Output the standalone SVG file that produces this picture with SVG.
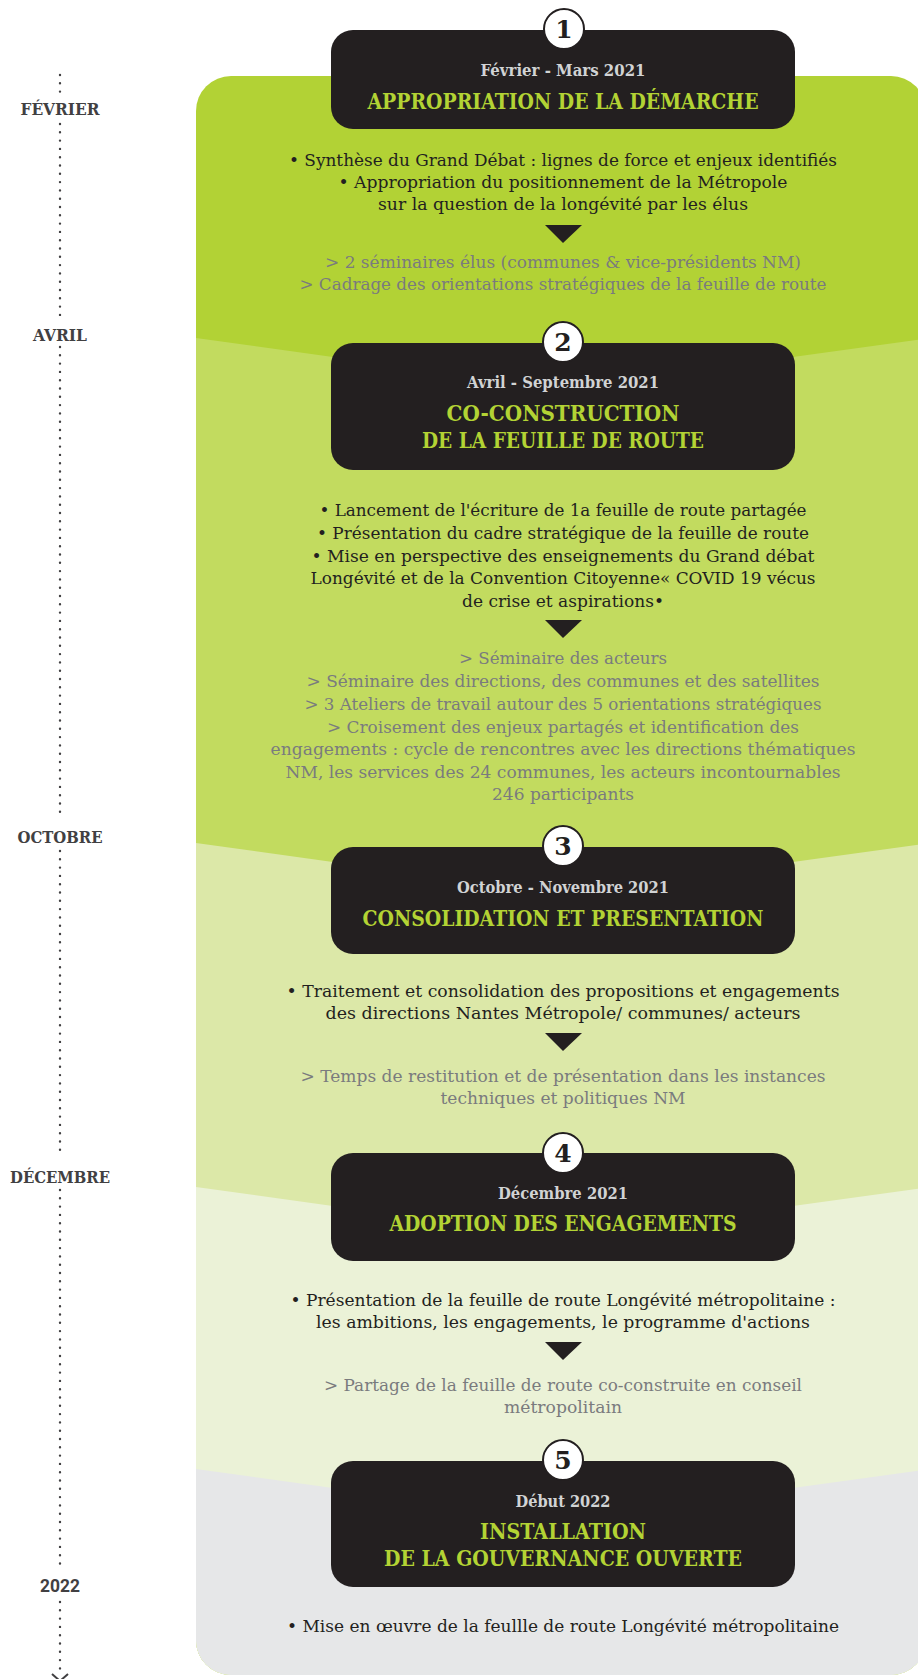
<svg xmlns="http://www.w3.org/2000/svg" width="918" height="1679" viewBox="0 0 918 1679">
<defs>
<style>
.lbl{font-family:"DejaVu Serif","Liberation Serif",serif;font-weight:bold;font-size:17px;fill:#414042;text-anchor:middle}
.lbl2{font-family:Roboto,"Liberation Sans",sans-serif;font-weight:bold;font-size:18px;fill:#414042;text-anchor:middle}
.date{font-family:"DejaVu Serif","Liberation Serif",serif;font-weight:bold;font-size:17px;fill:#d1d3d4;text-anchor:middle}
.ttl{font-family:"DejaVu Serif","Liberation Serif",serif;font-weight:bold;font-size:22px;fill:#b3d334;text-anchor:middle}
.body{font-family:"DejaVu Serif","Liberation Serif",serif;font-size:17.5px;fill:#231f20;text-anchor:middle}
.sub{font-family:"DejaVu Serif","Liberation Serif",serif;font-size:17px;fill:#7a7b7e;text-anchor:middle}
.num{font-family:"DejaVu Serif","Liberation Serif",serif;font-weight:bold;font-size:25px;fill:#231f20;text-anchor:middle}
.box{fill:#231f20}
.circ{fill:#ffffff;stroke:#231f20;stroke-width:2}
.tri{fill:#231f20}
.dots{stroke:#414042;stroke-width:2.4;stroke-linecap:round;stroke-dasharray:0 8.3;fill:none}
</style>
<clipPath id="cont">
<rect x="196" y="76" width="730" height="1599" rx="35" ry="35"/>
</clipPath>
</defs>

<rect width="918" height="1679" fill="#ffffff"/>

<g id="background" clip-path="url(#cont)">
<rect x="196" y="76" width="730" height="1599" fill="#b2d235"/>
<polygon points="196,338 563,389 930,338 930,1680 196,1680" fill="#c2db5f"/>
<polygon points="196,843 563,894 930,843 930,1680 196,1680" fill="#dce8a8"/>
<polygon points="196,1187 563,1238 930,1187 930,1680 196,1680" fill="#ebf2d7"/>
<polygon points="196,1469 563,1520 930,1469 930,1680 196,1680" fill="#e6e7e8"/>
</g>

<g id="connectors">
<line class="dots" x1="60" y1="75" x2="60" y2="93"/>
<line class="dots" x1="60" y1="124" x2="60" y2="316"/>
<line class="dots" x1="60" y1="347" x2="60" y2="820"/>
<line class="dots" x1="60" y1="851" x2="60" y2="1157"/>
<line class="dots" x1="60" y1="1190" x2="60" y2="1568"/>
<line class="dots" x1="60" y1="1602" x2="60" y2="1672"/>
<polyline points="52,1674 60,1681 68,1674" fill="none" stroke="#414042" stroke-width="2"/>
</g>

<g id="timeline-labels">
<text class="lbl" x="60" y="115" textLength="79" lengthAdjust="spacingAndGlyphs">FÉVRIER</text>
<text class="lbl" x="60" y="341" textLength="54" lengthAdjust="spacingAndGlyphs">AVRIL</text>
<text class="lbl" x="60" y="843" textLength="85" lengthAdjust="spacingAndGlyphs">OCTOBRE</text>
<text class="lbl" x="60" y="1183" textLength="100" lengthAdjust="spacingAndGlyphs">DÉCEMBRE</text>
<text class="lbl2" x="60" y="1592" textLength="40" lengthAdjust="spacingAndGlyphs">2022</text>
</g>

<g id="step1">
<rect class="box" x="331" y="30" width="464" height="99" rx="22"/>
<circle class="circ" cx="564" cy="29" r="20"/>
<text class="num" x="564" y="38">1</text>
<text class="date" x="563" y="76" textLength="165" lengthAdjust="spacingAndGlyphs">Février - Mars 2021</text>
<text class="ttl" x="563" y="109" textLength="391" lengthAdjust="spacingAndGlyphs">APPROPRIATION DE LA DÉMARCHE</text>
</g>
<g id="step1-content">
<text class="body" x="563" y="166" textLength="548" lengthAdjust="spacingAndGlyphs">• Synthèse du Grand Débat : lignes de force et enjeux identifiés</text>
<text class="body" x="563" y="188" textLength="449" lengthAdjust="spacingAndGlyphs">• Appropriation du positionnement de la Métropole</text>
<text class="body" x="563" y="210" textLength="370" lengthAdjust="spacingAndGlyphs">sur la question de la longévité par les élus</text>
<polygon class="tri" points="545,225 582,225 563,243"/>
<text class="sub" x="563" y="268" textLength="476" lengthAdjust="spacingAndGlyphs">&gt; 2 séminaires élus (communes &amp; vice-présidents NM)</text>
<text class="sub" x="563" y="290" textLength="527" lengthAdjust="spacingAndGlyphs">&gt; Cadrage des orientations stratégiques de la feuille de route</text>
</g>

<g id="step2">
<rect class="box" x="331" y="343" width="464" height="127" rx="22"/>
<circle class="circ" cx="563" cy="342" r="20"/>
<text class="num" x="563" y="351">2</text>
<text class="date" x="563" y="388" textLength="192" lengthAdjust="spacingAndGlyphs">Avril - Septembre 2021</text>
<text class="ttl" x="563" y="421" textLength="233" lengthAdjust="spacingAndGlyphs">CO-CONSTRUCTION</text>
<text class="ttl" x="563" y="448" textLength="282" lengthAdjust="spacingAndGlyphs">DE LA FEUILLE DE ROUTE</text>
</g>
<g id="step2-content">
<text class="body" x="563" y="516" textLength="487" lengthAdjust="spacingAndGlyphs">• Lancement de l'écriture de 1a feuille de route partagée</text>
<text class="body" x="563" y="539" textLength="492" lengthAdjust="spacingAndGlyphs">• Présentation du cadre stratégique de la feuille de route</text>
<text class="body" x="563" y="562" textLength="503" lengthAdjust="spacingAndGlyphs">• Mise en perspective des enseignements du Grand débat</text>
<text class="body" x="563" y="584" textLength="505" lengthAdjust="spacingAndGlyphs">Longévité et de la Convention Citoyenne« COVID 19 vécus</text>
<text class="body" x="563" y="607" textLength="202" lengthAdjust="spacingAndGlyphs">de crise et aspirations•</text>
<polygon class="tri" points="545,620 582,620 563,638"/>
<text class="sub" x="563" y="664" textLength="208" lengthAdjust="spacingAndGlyphs">&gt; Séminaire des acteurs</text>
<text class="sub" x="563" y="687" textLength="513" lengthAdjust="spacingAndGlyphs">&gt; Séminaire des directions, des communes et des satellites</text>
<text class="sub" x="563" y="710" textLength="517" lengthAdjust="spacingAndGlyphs">&gt; 3 Ateliers de travail autour des 5 orientations stratégiques</text>
<text class="sub" x="563" y="733" textLength="472" lengthAdjust="spacingAndGlyphs">&gt; Croisement des enjeux partagés et identification des</text>
<text class="sub" x="563" y="755" textLength="585" lengthAdjust="spacingAndGlyphs">engagements : cycle de rencontres avec les directions thématiques</text>
<text class="sub" x="563" y="778" textLength="555" lengthAdjust="spacingAndGlyphs">NM, les services des 24 communes, les acteurs incontournables</text>
<text class="sub" x="563" y="800" textLength="142" lengthAdjust="spacingAndGlyphs">246 participants</text>
</g>

<g id="step3">
<rect class="box" x="331" y="847" width="464" height="107" rx="22"/>
<circle class="circ" cx="563" cy="846" r="20"/>
<text class="num" x="563" y="855">3</text>
<text class="date" x="563" y="893" textLength="212" lengthAdjust="spacingAndGlyphs">Octobre - Novembre 2021</text>
<text class="ttl" x="563" y="926" textLength="401" lengthAdjust="spacingAndGlyphs">CONSOLIDATION ET PRESENTATION</text>
</g>
<g id="step3-content">
<text class="body" x="563" y="997" textLength="553" lengthAdjust="spacingAndGlyphs">• Traitement et consolidation des propositions et engagements</text>
<text class="body" x="563" y="1019" textLength="475" lengthAdjust="spacingAndGlyphs">des directions Nantes Métropole/ communes/ acteurs</text>
<polygon class="tri" points="545,1033 582,1033 563,1051"/>
<text class="sub" x="563" y="1082" textLength="525" lengthAdjust="spacingAndGlyphs">&gt; Temps de restitution et de présentation dans les instances</text>
<text class="sub" x="563" y="1104" textLength="245" lengthAdjust="spacingAndGlyphs">techniques et politiques NM</text>
</g>

<g id="step4">
<rect class="box" x="331" y="1153" width="464" height="108" rx="22"/>
<circle class="circ" cx="563" cy="1153" r="20"/>
<text class="num" x="563" y="1162">4</text>
<text class="date" x="563" y="1199" textLength="130" lengthAdjust="spacingAndGlyphs">Décembre 2021</text>
<text class="ttl" x="563" y="1231" textLength="347" lengthAdjust="spacingAndGlyphs">ADOPTION DES ENGAGEMENTS</text>
</g>
<g id="step4-content">
<text class="body" x="563" y="1306" textLength="545" lengthAdjust="spacingAndGlyphs">• Présentation de la feuille de route Longévité métropolitaine :</text>
<text class="body" x="563" y="1328" textLength="494" lengthAdjust="spacingAndGlyphs">les ambitions, les engagements, le programme d'actions</text>
<polygon class="tri" points="545,1342 582,1342 563,1360"/>
<text class="sub" x="563" y="1391" textLength="478" lengthAdjust="spacingAndGlyphs">&gt; Partage de la feuille de route co-construite en conseil</text>
<text class="sub" x="563" y="1413" textLength="118" lengthAdjust="spacingAndGlyphs">métropolitain</text>
</g>

<g id="step5">
<rect class="box" x="331" y="1461" width="464" height="126" rx="22"/>
<circle class="circ" cx="563" cy="1460" r="20"/>
<text class="num" x="563" y="1469">5</text>
<text class="date" x="563" y="1507" textLength="95" lengthAdjust="spacingAndGlyphs">Début 2022</text>
<text class="ttl" x="563" y="1539" textLength="166" lengthAdjust="spacingAndGlyphs">INSTALLATION</text>
<text class="ttl" x="563" y="1566" textLength="358" lengthAdjust="spacingAndGlyphs">DE LA GOUVERNANCE OUVERTE</text>
</g>
<g id="step5-content">
<text class="body" x="563" y="1632" textLength="552" lengthAdjust="spacingAndGlyphs">• Mise en œuvre de la feullle de route Longévité métropolitaine</text>
</g>
</svg>
